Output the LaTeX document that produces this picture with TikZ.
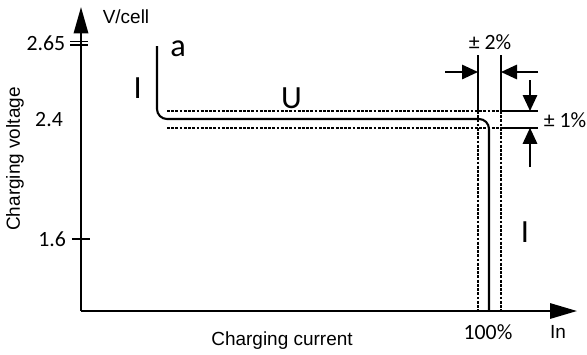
\documentclass[tikz,border=0pt]{standalone}
\usepackage{fontspec}
\setmainfont{Liberation Sans}
\newfontfamily\calibri{Carlito}
\usetikzlibrary{arrows.meta}

\begin{document}
\begin{tikzpicture}[
	band/.style={line width=1.4pt, dash pattern=on 2pt off 1pt},
	tol/.style={line width=1.3pt},
	tolarrow/.style={line width=1.3pt, -{Triangle[length=4mm,width=3.6mm]}},
	tick/.style={font=\fontsize{15.5}{16}\selectfont\calibri, anchor=east},
	big/.style={font=\fontsize{23}{23}\selectfont\calibri},
	axislabel/.style={font=\fontsize{13.5}{14}\selectfont}
	]
	\useasboundingbox (-2.025,-1.075) rectangle (12.65,7.775);

	% axes
	\draw[line width=1.5pt, -{Triangle[length=6.7mm,width=3.8mm]}] (0,0) -- (12.4,0);
	\draw[line width=1.5pt, -{Triangle[length=6.6mm,width=3.6mm]}] (0,0) -- (0,7.6);
	\node[axislabel] (vcell) at (1.125,7.35) {V/cell};
	\node[axislabel] (in) at (11.925,-0.53) {In};
	\node[axislabel, rotate=90] (volt) at (-1.65,3.8) {Charging voltage};
	\node[axislabel] (curr) at (5.025,-0.73) {Charging current};

	% ticks
	\draw[line width=1.2pt] (-0.275,6.74) -- (0.175,6.74);
	\draw[line width=1.2pt] (-0.275,6.65) -- (0.175,6.65);
	\draw[line width=1.2pt] (-0.225,1.8) -- (0.225,1.8);
	\node[tick] (t265) at (-0.27,6.7) {2.65};
	\node[tick] (t24) at (-0.33,4.775) {2.4};
	\node[tick] (t16) at (-0.25,1.8) {1.6};

	% tolerance band
	\draw[band] (2.15,5.0) -- (10.5,5.0);
	\draw[band] (2.15,4.58) -- (10.5,4.58);
	\draw[band] (9.925,5.0) -- (9.925,0);
	\draw[band] (10.5,5.0) -- (10.5,0);

	% IUI characteristic
	\draw[line width=1.5pt, rounded corners=0.25cm] (1.9,6.625) -- (1.9,4.8) -- (10.2,4.8) -- (10.2,0);
	\node[big] (ileft) at (1.42,5.575) {I};
	\node[big] (a) at (2.43,6.56) {a};
	\node[big] (u) at (5.26,5.32) {U};
	\node[big] (iright) at (11.1,1.975) {I};
	\node[tick, anchor=center] (full) at (10.175,-0.53) {100\%};

	% +-2%
	\draw[tol] (9.925,5.0) -- (9.925,6.4);
	\draw[tol] (10.5,5.0) -- (10.5,6.4);
	\draw[tolarrow] (9.1,5.975) -- (9.925,5.975);
	\draw[tolarrow] (11.425,5.975) -- (10.5,5.975);
	\node[tick, anchor=center] (pm2) at (10.225,6.73) {± 2\%};

	% +-1%
	\draw[tol] (10.5,5.0) -- (11.425,5.0);
	\draw[tol] (10.5,4.58) -- (11.425,4.58);
	\draw[tolarrow] (11.225,5.775) -- (11.225,5.0);
	\draw[tolarrow] (11.225,3.6) -- (11.225,4.58);
	\node[tick, anchor=center] (pm1) at (12.1,4.775) {± 1\%};

\end{tikzpicture}
\end{document}
